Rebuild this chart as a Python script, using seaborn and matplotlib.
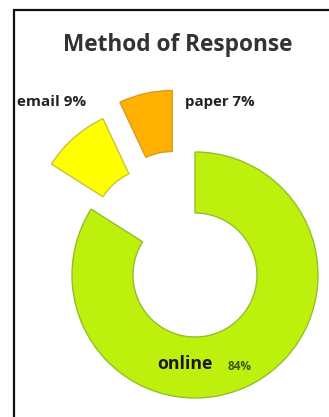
import matplotlib
matplotlib.use("Agg")
import matplotlib.pyplot as plt
import seaborn as sns
from matplotlib.patches import Rectangle

sns.set_theme(style="white")
plt.rcParams["font.family"] = ["Open Sans", "DejaVu Sans"]

# Survey response channels
categories = ["online", "email", "paper"]
shares = [84, 9, 7]
pct_labels = ["84%", "9%", "7%"]

colors = ["#BEF00E", "#FFFF00", "#FFB000"]
edges = ["#93C028", "#C9C23A", "#D99A1E"]
explode = [0, 60, 63]   # pie offsets are in data units (pixels here)

W, H = 329, 417
fig = plt.figure(figsize=(W / 100, H / 100), dpi=100)
fig.patch.set_facecolor("white")
ax = fig.add_axes([0, 0, 1, 1])

wedges, _ = ax.pie(
    shares,
    colors=colors,
    explode=explode,
    startangle=90,
    counterclock=False,
    radius=123,
    center=(195, H - 275),
    wedgeprops=dict(width=61, linewidth=1.0),
)
for w, ec in zip(wedges, edges):
    w.set_edgecolor(ec)

# pull the paper slice a little further to the left
cx, cy = wedges[2].center
wedges[2].set_center((cx - 9, cy))

ax.set_xlim(0, W)
ax.set_ylim(0, H)
ax.set_aspect("equal")
ax.axis("off")

# outer frame
fig.patches.append(Rectangle((14 / W, -0.1), 1.2, 1 - 10 / H + 0.1,
                             transform=fig.transFigure, fill=False,
                             edgecolor="#111111", linewidth=1.6, zorder=5))

ax.text(178, H - 45, "Method of Response", ha="center", va="center",
        fontsize=16.3, fontweight="bold", color="#333333")
ax.text(17, H - 102, f"{categories[1]} {pct_labels[1]}", ha="left", va="center",
        fontsize=11, fontweight="bold", color="#222222")
ax.text(185, H - 102, f"{categories[2]} {pct_labels[2]}", ha="left", va="center",
        fontsize=10.8, fontweight="bold", color="#222222")
ax.text(185, H - 364, categories[0], ha="center", va="center",
        fontsize=12.8, fontweight="bold", color="#1a1a1a")
ax.text(240, H - 367, pct_labels[0], ha="center", va="center",
        fontsize=8.5, fontweight="bold", color="#3a5a10")

fig.savefig("out.png", dpi=100, facecolor="white")
